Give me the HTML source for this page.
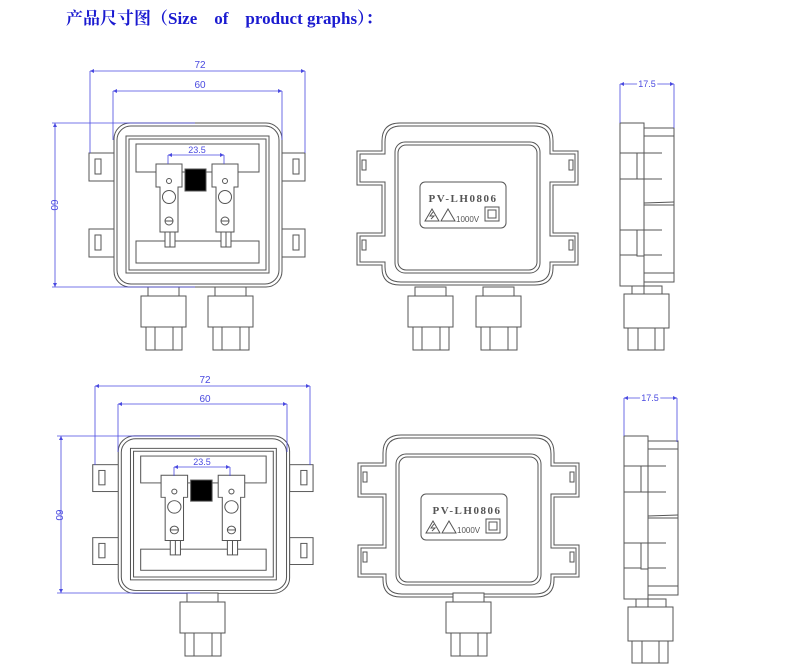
<!DOCTYPE html>
<html><head><meta charset="utf-8"><style>
html,body{margin:0;padding:0;background:#fff;width:793px;height:668px;overflow:hidden}
svg{display:block}
</style></head><body>
<svg width="793" height="668" viewBox="0 0 793 668" xmlns="http://www.w3.org/2000/svg">
<text x="66" y="24" font-family="'Liberation Serif','Noto Serif CJK SC',serif" font-weight="bold" font-size="17" fill="#1a1ad0" xml:space="preserve">产品尺寸图（Size    of    product graphs）：</text>
<defs>
<marker id="a" viewBox="0 0 10 10" refX="10" refY="5" markerWidth="6" markerHeight="4" orient="auto-start-reverse" markerUnits="userSpaceOnUse"><path d="M0 0L10 5L0 10Z" fill="#4a4ae0"/></marker>
<g id="front" fill="none" stroke="#555" stroke-width="1">
  <rect x="89" y="153" width="26" height="28"/><rect x="95" y="159" width="6" height="15"/>
  <rect x="89" y="229" width="26" height="28"/><rect x="95" y="235" width="6" height="15"/>
  <rect x="282" y="153" width="23" height="28"/><rect x="293" y="159" width="6" height="15"/>
  <rect x="282" y="229" width="23" height="28"/><rect x="293" y="235" width="6" height="15"/>
  <rect x="114" y="123" width="168" height="164" rx="16" fill="#fff"/>
  <rect x="117" y="126" width="162" height="158" rx="14"/>
  <rect x="126" y="136" width="143" height="137"/>
  <rect x="129" y="139" width="137" height="131"/>
  <rect x="136" y="144" width="123" height="28"/>
  <rect x="136" y="241" width="123" height="22"/>
  <g id="term">
    <path d="M156 164H182V187H178V232H160V187H156Z" fill="#fff"/>
    <rect x="165" y="232" width="10" height="15" fill="#fff"/><line x1="170" y1="232" x2="170" y2="247"/>
    <circle cx="169" cy="181" r="2.5"/><circle cx="169" cy="197" r="6.5"/><circle cx="169" cy="221" r="4"/><line x1="165" y1="221" x2="173" y2="221"/>
  </g>
  <use href="#term" x="56"/>
  <rect x="185" y="169" width="21" height="22" fill="#000"/>
</g>
<g id="conn" fill="#fff" stroke="#555" stroke-width="1">
  <rect x="7" y="0" width="31" height="9"/>
  <rect x="0" y="9" width="45" height="31"/>
  <rect x="5" y="40" width="36" height="23"/>
  <line x1="14" y1="40" x2="14" y2="63"/><line x1="32" y1="40" x2="32" y2="63"/>
</g>
<g id="back" fill="none" stroke="#555" stroke-width="1">
  <path d="M400 123H535Q553 123 553 141V151H578V185H553V233H578V265H553V268Q553 285 535 285H400Q382 285 382 268V265H357V233H382V185H357V151H382V141Q382 123 400 123Z" fill="#fff"/>
  <path d="M401 126H534Q550 126 550 142V154H575V182H550V236H575V262H550V267Q550 282 534 282H401Q385 282 385 267V262H360V236H385V182H360V154H385V142Q385 126 401 126Z"/>
  <rect x="362" y="160" width="4" height="10"/><rect x="362" y="240" width="4" height="10"/>
  <rect x="569" y="160" width="4" height="10"/><rect x="569" y="240" width="4" height="10"/>
  <rect x="395" y="142" width="145" height="131" rx="10"/>
  <rect x="398" y="145" width="139" height="125" rx="8"/>
  <rect x="420" y="182" width="86" height="46" rx="5"/>
  <path d="M425 221L432 209L439 221Z M433 212L430 216H434L431 219"/>
  <path d="M441 221L448 209L455 221Z"/>
  <rect x="485" y="207" width="14" height="14"/><rect x="488" y="210" width="8" height="8"/>
</g>
<g id="side" fill="#fff" stroke="#555" stroke-width="1">
  <rect x="620" y="123" width="24" height="163"/>
  <rect x="644" y="128" width="30" height="154"/>
  <line x1="644" y1="136" x2="674" y2="136"/><line x1="644" y1="273" x2="674" y2="273"/>
  <line x1="644" y1="203" x2="674" y2="202"/><line x1="644" y1="205" x2="674" y2="205"/>
  <line x1="620" y1="153" x2="662" y2="153"/><line x1="620" y1="179" x2="662" y2="179"/>
  <line x1="620" y1="230" x2="662" y2="230"/><line x1="620" y1="255" x2="662" y2="255"/>
  <rect x="637" y="153" width="7" height="26"/><rect x="637" y="230" width="7" height="26"/>
  <rect x="632" y="286" width="30" height="8"/><line x1="644" y1="286" x2="644" y2="294"/>
  <rect x="624" y="294" width="45" height="34"/>
  <rect x="628" y="328" width="36" height="22"/>
  <line x1="638" y1="328" x2="638" y2="350"/><line x1="655" y1="328" x2="655" y2="350"/>
</g>
</defs>

<use href="#front"/>
<use href="#conn" x="141" y="287"/><use href="#conn" x="208" y="287"/>
<use href="#back"/>
<text x="463" y="202" text-anchor="middle" font-family="'Liberation Serif',serif" font-weight="bold" font-size="11" fill="#555" letter-spacing="1.5">PV-LH0806</text>
<text x="456" y="222" font-family="'Liberation Sans',sans-serif" font-size="8" fill="#555">1000V</text>
<use href="#conn" x="408" y="287"/><use href="#conn" x="476" y="287"/>
<use href="#side"/>

<g transform="translate(4,313) scale(1.02,0.96) translate(-2,5)"><use href="#front"/></g>
<use href="#conn" x="180" y="593"/>
<g transform="translate(1,312)"><use href="#back"/></g>
<text x="467" y="514" text-anchor="middle" font-family="'Liberation Serif',serif" font-weight="bold" font-size="11" fill="#555" letter-spacing="1.5">PV-LH0806</text>
<text x="457" y="533" font-family="'Liberation Sans',sans-serif" font-size="8" fill="#555">1000V</text>
<use href="#conn" x="446" y="593"/>
<g transform="translate(4,313)"><use href="#side"/></g>

<g stroke="#4a4ae0" stroke-width="0.8" fill="none">
  <line x1="90" y1="71" x2="305" y2="71" marker-start="url(#a)" marker-end="url(#a)"/><line x1="90" y1="71" x2="90" y2="153"/><line x1="305" y1="71" x2="305" y2="153"/>
  <line x1="113" y1="91" x2="282" y2="91" marker-start="url(#a)" marker-end="url(#a)"/><line x1="113" y1="91" x2="113" y2="140"/><line x1="282" y1="91" x2="282" y2="140"/>
  <line x1="55" y1="123" x2="55" y2="287" marker-start="url(#a)" marker-end="url(#a)"/><line x1="52" y1="123" x2="195" y2="123"/><line x1="52" y1="287" x2="195" y2="287"/>
  <line x1="168" y1="155" x2="224" y2="155" marker-start="url(#a)" marker-end="url(#a)"/><line x1="168" y1="155" x2="168" y2="164"/><line x1="224" y1="155" x2="224" y2="164"/>
  <line x1="620" y1="84" x2="674" y2="84" marker-start="url(#a)" marker-end="url(#a)"/><line x1="620" y1="84" x2="620" y2="123"/><line x1="674" y1="84" x2="674" y2="128"/>

  <line x1="95" y1="386" x2="310" y2="386" marker-start="url(#a)" marker-end="url(#a)"/><line x1="95" y1="386" x2="95" y2="465"/><line x1="310" y1="386" x2="310" y2="465"/>
  <line x1="118" y1="404" x2="287" y2="404" marker-start="url(#a)" marker-end="url(#a)"/><line x1="118" y1="404" x2="118" y2="452"/><line x1="287" y1="404" x2="287" y2="452"/>
  <line x1="61" y1="436" x2="61" y2="593" marker-start="url(#a)" marker-end="url(#a)"/><line x1="57" y1="436" x2="200" y2="436"/><line x1="57" y1="593" x2="200" y2="593"/>
  <line x1="174" y1="467" x2="230" y2="467" marker-start="url(#a)" marker-end="url(#a)"/><line x1="174" y1="467" x2="174" y2="476"/><line x1="230" y1="467" x2="230" y2="476"/>
  <line x1="624" y1="398" x2="677" y2="398" marker-start="url(#a)" marker-end="url(#a)"/><line x1="624" y1="398" x2="624" y2="436"/><line x1="677" y1="398" x2="677" y2="442"/>
</g>
<g fill="#4a4ae0" font-family="'Liberation Sans',sans-serif" font-size="10">
  <text x="200" y="68" text-anchor="middle">72</text>
  <text x="200" y="88" text-anchor="middle">60</text>
  <text x="197" y="153" text-anchor="middle" font-size="9">23.5</text>
  <text x="647" y="87" text-anchor="middle" font-size="9" stroke="#fff" stroke-width="4" paint-order="stroke">17.5</text>
  <text transform="translate(51,205) rotate(90)" text-anchor="middle">60</text>
  <text x="205" y="383" text-anchor="middle">72</text>
  <text x="205" y="402" text-anchor="middle">60</text>
  <text x="202" y="465" text-anchor="middle" font-size="9">23.5</text>
  <text x="650" y="401" text-anchor="middle" font-size="9" stroke="#fff" stroke-width="4" paint-order="stroke">17.5</text>
  <text transform="translate(56,515) rotate(90)" text-anchor="middle">60</text>
</g>
</svg>
</body></html>
